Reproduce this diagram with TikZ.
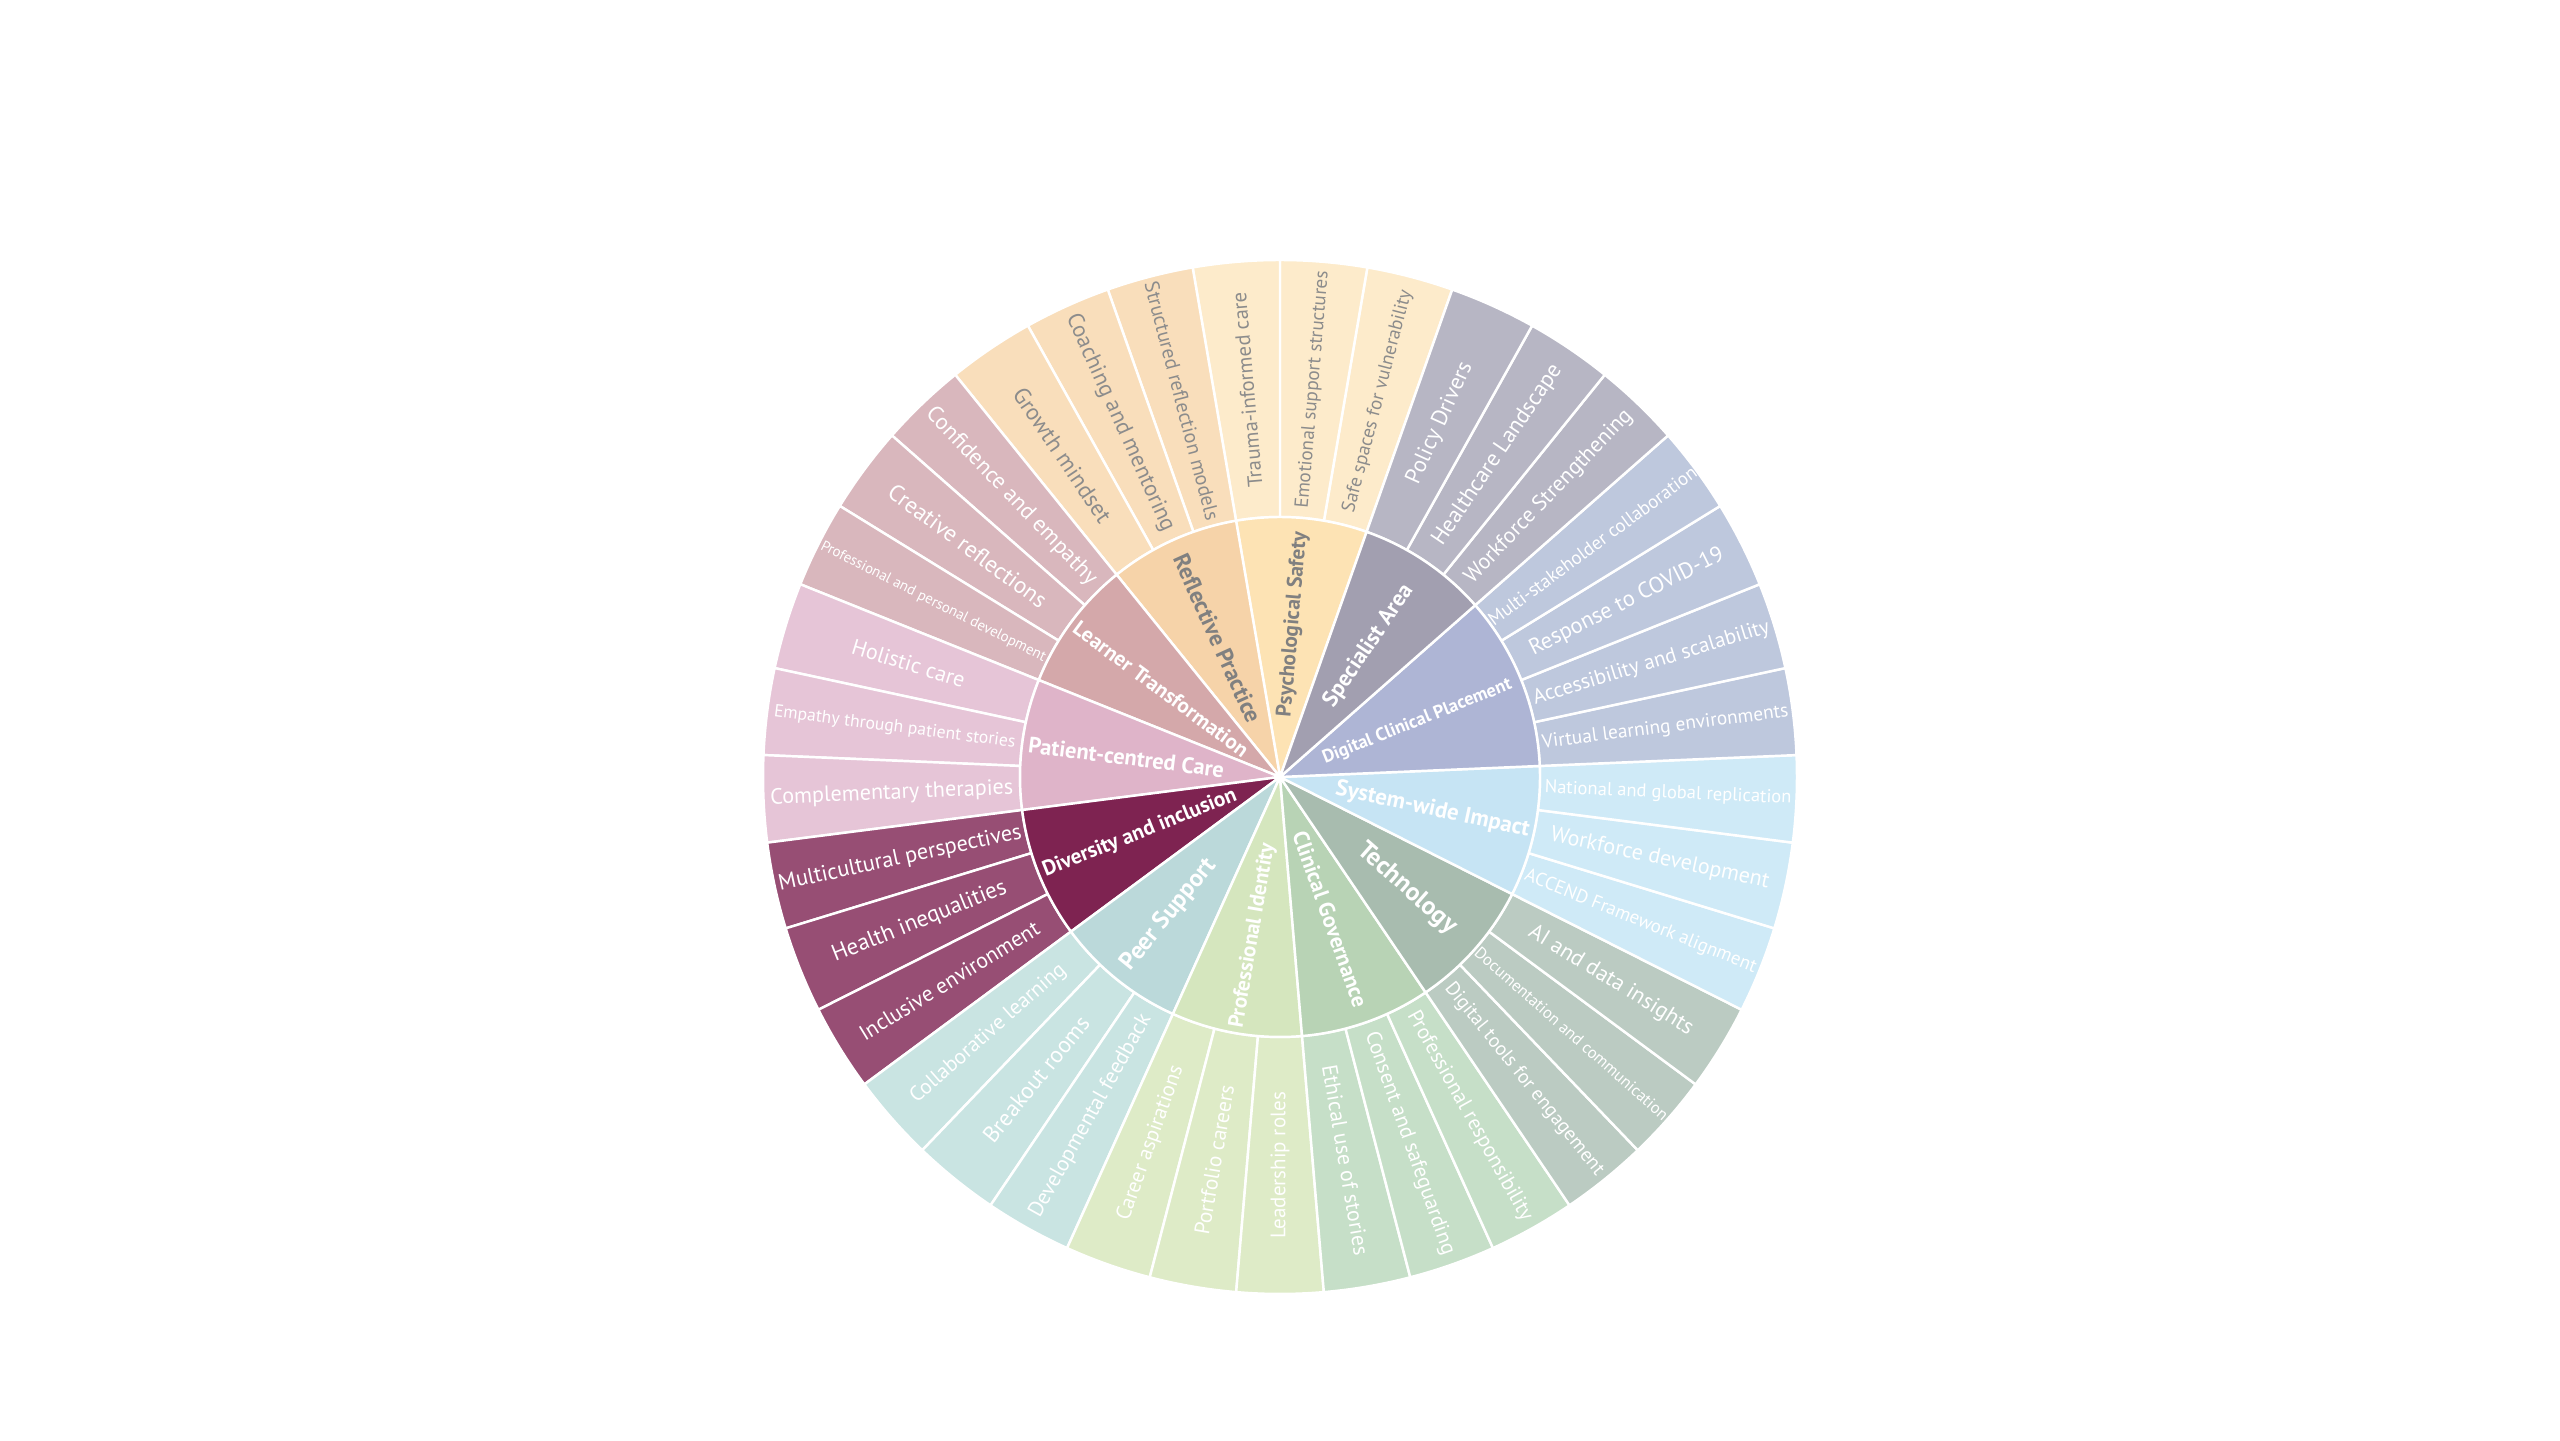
\documentclass[tikz,border=0pt]{standalone}
\usepackage{fontspec}
\setmainfont{PT Sans}
\usepackage{graphicx}
\definecolor{PsyIn}{HTML}{FDE3B4}
\definecolor{PsyOut}{HTML}{FDEBCB}
\definecolor{RefIn}{HTML}{F6D3A9}
\definecolor{RefOut}{HTML}{F9DEBB}
\definecolor{LrnIn}{HTML}{D4A8AA}
\definecolor{LrnOut}{HTML}{D9B7BD}
\definecolor{PatIn}{HTML}{DFB4C9}
\definecolor{PatOut}{HTML}{E6C5D7}
\definecolor{DivIn}{HTML}{7E2351}
\definecolor{DivOut}{HTML}{974E74}
\definecolor{PeerIn}{HTML}{BBD9DA}
\definecolor{PeerOut}{HTML}{C9E4E2}
\definecolor{ProfIn}{HTML}{D5E6BE}
\definecolor{ProfOut}{HTML}{DEEBC7}
\definecolor{GovIn}{HTML}{B8D3B5}
\definecolor{GovOut}{HTML}{C6DFC8}
\definecolor{TechIn}{HTML}{A8BCAF}
\definecolor{TechOut}{HTML}{BBCBC2}
\definecolor{SysIn}{HTML}{C6E4F4}
\definecolor{SysOut}{HTML}{CFEAF7}
\definecolor{DigIn}{HTML}{AEB5D5}
\definecolor{DigOut}{HTML}{BEC8DD}
\definecolor{SpecIn}{HTML}{A29FB0}
\definecolor{SpecOut}{HTML}{B7B6C4}
\definecolor{GreyTxt}{HTML}{8C8C8C}
\definecolor{GreyHead}{HTML}{808080}
\newcommand{\fitto}[2]{\resizebox{#1cm}{!}{#2}}

\begin{document}
\begin{tikzpicture}[
    wedge/.style={draw=white,line width=0.7pt},
    lbl/.style={inner sep=0pt,anchor=center},
    head/.style={lbl,font=\bfseries}]
  \fill[white] (0,0) rectangle (25.6,14.4);
  \useasboundingbox (0,0) rectangle (25.6,14.4);
  \begin{scope}[shift={(12.8,6.63)}]
    % outer ring, one wedge per theme
    \foreach \i/\w/\col/\tc/\txt in {
      0/2.29/PsyOut/GreyTxt/Safe spaces for vulnerability,
      1/2.38/PsyOut/GreyTxt/Emotional support structures,
      2/1.95/PsyOut/GreyTxt/Trauma-informed care,
      3/2.46/RefOut/GreyTxt/Structured reflection models,
      4/2.36/RefOut/GreyTxt/Coaching and mentoring,
      5/1.57/RefOut/GreyTxt/Growth mindset,
      6/2.37/LrnOut/white/Confidence and empathy,
      7/1.91/LrnOut/white/Creative reflections,
      8/2.50/LrnOut/white/Professional and personal development,
      9/1.17/PatOut/white/Holistic care,
      10/2.43/PatOut/white/Empathy through patient stories,
      11/2.43/PatOut/white/Complementary therapies,
      12/2.48/DivOut/white/Multicultural perspectives,
      13/1.86/DivOut/white/Health inequalities,
      14/2.07/DivOut/white/Inclusive environment,
      15/2.00/PeerOut/white/Collaborative learning,
      16/1.55/PeerOut/white/Breakout rooms,
      17/2.29/PeerOut/white/Developmental feedback,
      18/1.63/ProfOut/white/Career aspirations,
      19/1.51/ProfOut/white/Portfolio careers,
      20/1.47/ProfOut/white/Leadership roles,
      21/1.93/GovOut/white/Ethical use of stories,
      22/2.35/GovOut/white/Consent and safeguarding,
      23/2.37/GovOut/white/Professional responsibility,
      24/2.42/TechOut/white/Digital tools for engagement,
      25/2.52/TechOut/white/Documentation and communication,
      26/1.89/TechOut/white/AI and data insights,
      27/2.48/SysOut/white/ACCEND Framework alignment,
      28/2.23/SysOut/white/Workforce development,
      29/2.47/SysOut/white/National and global replication,
      30/2.48/DigOut/white/Virtual learning environments,
      31/2.46/DigOut/white/Accessibility and scalability,
      32/2.15/DigOut/white/Response to COVID-19,
      33/2.54/DigOut/white/Multi-stakeholder collaboration,
      34/2.32/SpecOut/white/Workforce Strengthening,
      35/2.14/SpecOut/white/Healthcare Landscape,
      36/1.31/SpecOut/white/Policy Drivers}{
      \pgfmathsetmacro\a{70.5405+\i*9.7297}
      \pgfmathsetmacro\b{\a+9.7297}
      \pgfmathsetmacro\m{\a+4.86485}
      \pgfmathsetmacro\rot{\m>270.5 ? \m-360 : (\m>100 ? \m-180 : \m)}
      \filldraw[wedge,fill=\col] (\a:2.6) arc[start angle=\a,end angle=\b,radius=2.6]
        -- (\b:5.17) arc[start angle=\b,end angle=\a,radius=5.17] -- cycle;
      \node[lbl,text=\tc,rotate=\rot] (leaf\i) at (\m:3.885) {\fitto{\w}{\txt}};
    }
    % inner ring, one wedge per category
    \foreach \s/\n/\col/\tc/\r/\w/\txt in {
      0/3/PsyIn/GreyHead/1.53/1.85/Psychological Safety,
      3/3/RefIn/GreyHead/1.52/1.82/Reflective Practice,
      6/3/LrnIn/white/1.48/2.12/Learner Transformation,
      9/3/PatIn/white/1.55/1.97/Patient-centred Care,
      12/3/DivIn/white/1.51/2.07/Diversity and inclusion,
      15/3/PeerIn/white/1.77/1.37/Peer Support,
      18/3/ProfIn/white/1.61/1.87/Professional Identity,
      21/3/GovIn/white/1.51/1.85/Clinical Governance,
      24/3/TechIn/white/1.69/1.24/Technology,
      27/3/SysIn/white/1.56/1.98/System-wide Impact,
      30/4/DigIn/white/1.48/2.02/Digital Clinical Placement,
      34/3/SpecIn/white/1.58/1.43/Specialist Area}{
      \pgfmathsetmacro\a{70.5405+\s*9.7297}
      \pgfmathsetmacro\b{\a+\n*9.7297}
      \pgfmathsetmacro\m{\a+\n*4.86485}
      \pgfmathsetmacro\rot{\m>270.5 ? \m-360 : (\m>100 ? \m-180 : \m)}
      \filldraw[wedge,fill=\col] (0,0) -- (\a:2.6)
        arc[start angle=\a,end angle=\b,radius=2.6] -- cycle;
      \node[head,text=\tc,rotate=\rot] (cat\s) at (\m:\r) {\fitto{\w}{\txt}};
    }
  \end{scope}
\end{tikzpicture}
\end{document}
